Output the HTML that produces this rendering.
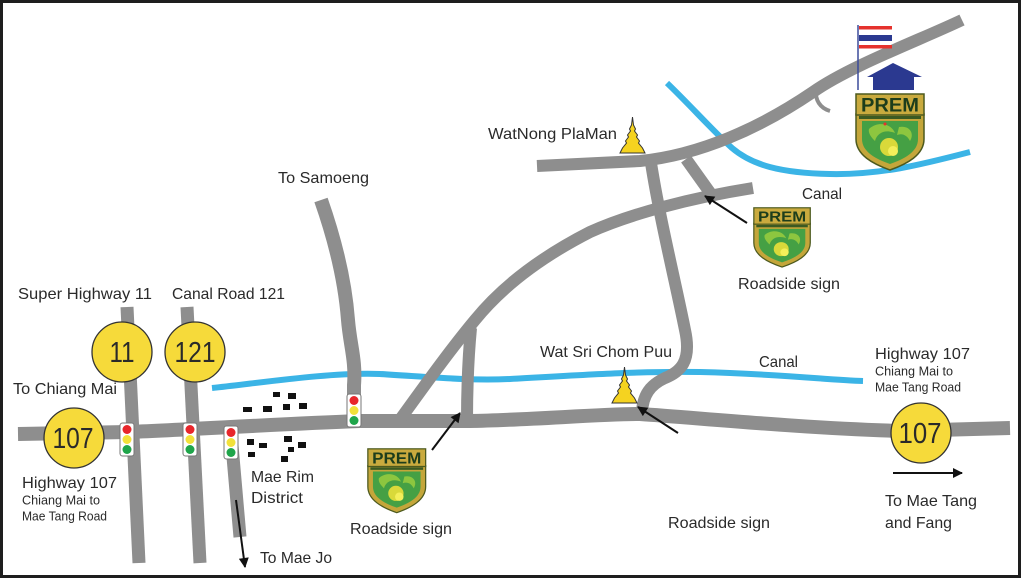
<!DOCTYPE html>
<html><head><meta charset="utf-8"><style>
html,body{margin:0;padding:0;background:#fff;}
svg{display:block;}
text{font-family:"Liberation Sans",sans-serif;fill:#2a2a2a;}
</style></head><body>
<svg width="1024" height="584" viewBox="0 0 1024 584" xmlns="http://www.w3.org/2000/svg">
<rect x="0" y="0" width="1024" height="584" fill="#fff"/>
<defs>
<marker id="ah" viewBox="0 0 10 10" refX="9" refY="5" markerWidth="11" markerHeight="10" orient="auto" markerUnits="userSpaceOnUse">
<path d="M0,0 L10,5 L0,10 Z" fill="#111"/></marker>
</defs>

<!-- canals -->
<g fill="none" stroke="#3bb4e6" stroke-width="6" stroke-linecap="butt">
<path d="M212,388 C260,383 330,372 380,374 C430,377 470,381 510,379 C580,375 640,371 700,372 C780,374 830,380 863,381"/>
<path d="M667,83 C690,105 712,130 732,148 C752,165 780,173 830,174 C880,175 920,165 970,152"/>
</g>

<!-- roads -->
<g fill="none" stroke="#8e8e8e" stroke-linecap="butt" stroke-linejoin="round">
<path stroke-width="14" d="M18,434 L130,432 C200,429 280,424 360,421 L470,421 C530,420 600,414 640,414 C700,418 800,428 900,431 L1010,428"/>
<path stroke-width="13" d="M127,307 L139,563"/>
<path stroke-width="13" d="M187,307 L200,563"/>
<path stroke-width="13" d="M231,434 L240,537"/>
<path stroke-width="14" d="M321,200 C335,240 345,280 348,320 C350,345 356,360 354,385 L354,420"/>
<path stroke-width="12" d="M399,421 C425,385 450,350 475,320 C505,283 545,255 590,232 C630,214 690,198 753,188"/>
<path stroke-width="12" d="M471,328 C468,360 467,390 467,421"/>
<path stroke-width="12" d="M537,166 L640,161 C700,155 760,128 813,92 C850,66 920,40 962,20"/>
<path stroke-width="12" d="M651,163 C660,220 675,280 685,330 C692,362 680,372 665,378 C650,385 643,395 642,412"/>
<path stroke-width="12" d="M686,159 L711,194"/>
<path stroke-width="4" d="M816,90 C815,100 820,108 830,111"/>
</g>

<!-- houses -->
<g fill="#111">
<rect x="273" y="392" width="7" height="5"/><rect x="288" y="393" width="8" height="6"/>
<rect x="243" y="407" width="9" height="5"/><rect x="263" y="406" width="9" height="6"/>
<rect x="283" y="404" width="7" height="6"/><rect x="299" y="403" width="8" height="6"/>
<rect x="247" y="439" width="7" height="6"/><rect x="259" y="443" width="8" height="5"/>
<rect x="248" y="452" width="7" height="5"/><rect x="284" y="436" width="8" height="6"/>
<rect x="298" y="442" width="8" height="6"/><rect x="288" y="447" width="6" height="5"/>
<rect x="281" y="456" width="7" height="6"/>
</g>

<!-- traffic lights -->
<g stroke="#777" stroke-width="1">
<g transform="translate(120,423)"><rect x="0" y="0" width="14" height="33" rx="2.5" fill="#fff"/><circle cx="7" cy="6.5" r="4.5" fill="#e8262b" stroke="none"/><circle cx="7" cy="16.5" r="4.5" fill="#f2e13a" stroke="none"/><circle cx="7" cy="26.5" r="4.5" fill="#1fa54a" stroke="none"/></g>
<g transform="translate(183,423)"><rect x="0" y="0" width="14" height="33" rx="2.5" fill="#fff"/><circle cx="7" cy="6.5" r="4.5" fill="#e8262b" stroke="none"/><circle cx="7" cy="16.5" r="4.5" fill="#f2e13a" stroke="none"/><circle cx="7" cy="26.5" r="4.5" fill="#1fa54a" stroke="none"/></g>
<g transform="translate(224,426)"><rect x="0" y="0" width="14" height="33" rx="2.5" fill="#fff"/><circle cx="7" cy="6.5" r="4.5" fill="#e8262b" stroke="none"/><circle cx="7" cy="16.5" r="4.5" fill="#f2e13a" stroke="none"/><circle cx="7" cy="26.5" r="4.5" fill="#1fa54a" stroke="none"/></g>
<g transform="translate(347,394)"><rect x="0" y="0" width="14" height="33" rx="2.5" fill="#fff"/><circle cx="7" cy="6.5" r="4.5" fill="#e8262b" stroke="none"/><circle cx="7" cy="16.5" r="4.5" fill="#f2e13a" stroke="none"/><circle cx="7" cy="26.5" r="4.5" fill="#1fa54a" stroke="none"/></g>
</g>

<!-- route shields -->
<g fill="#f6da3a" stroke="#333" stroke-width="1.3">
<circle cx="122" cy="352" r="30"/>
<circle cx="195" cy="352" r="30"/>
<circle cx="74" cy="438" r="30"/>
<circle cx="921" cy="433" r="30"/>
</g>
<g font-size="29" text-anchor="middle">
<text x="122" y="362" textLength="25" lengthAdjust="spacingAndGlyphs" fill="#1a1a1a">11</text>
<text x="195" y="362" textLength="41" lengthAdjust="spacingAndGlyphs" fill="#1a1a1a">121</text>
<text x="73" y="448" textLength="41" lengthAdjust="spacingAndGlyphs" fill="#1a1a1a">107</text>
<text x="920" y="443" textLength="43" lengthAdjust="spacingAndGlyphs" fill="#1a1a1a">107</text>
</g>

<!-- stupas -->
<g fill="#f5d320" stroke="#333" stroke-width="1">
<path transform="translate(620,117)" d="M12.5,0 L13.5,8 L15.5,12 L14.5,14 L17.5,18 L16.5,20 L19.5,24 L18.5,26 L22.5,31 L25,36 L0,36 L2.5,31 L6.5,26 L5.5,24 L8.5,20 L7.5,18 L10.5,14 L9.5,12 L11.5,8 Z"/>
<path transform="translate(612,367)" d="M12.5,0 L13.5,8 L15.5,12 L14.5,14 L17.5,18 L16.5,20 L19.5,24 L18.5,26 L22.5,31 L25,36 L0,36 L2.5,31 L6.5,26 L5.5,24 L8.5,20 L7.5,18 L10.5,14 L9.5,12 L11.5,8 Z"/>
</g>

<!-- flag & house -->
<line x1="858" y1="25" x2="858" y2="90" stroke="#3a4a9a" stroke-width="1.5"/>
<rect x="859" y="26" width="33" height="3.5" fill="#e5322d"/>
<rect x="859" y="35" width="33" height="6" fill="#2b3990"/>
<rect x="859" y="45" width="33" height="3.5" fill="#e5322d"/>
<path d="M867,77 L893,63 L922,77 L914,77 L914,90 L873,90 L873,77 Z" fill="#2b3990"/>

<!-- crests -->
<g transform="translate(855,93)">
<path d="M1,21 L69,21 L69,46 C69,62 52,71 35,77 C18,71 1,62 1,46 Z" fill="#c4a63a" stroke="#4d5a1e" stroke-width="1.5"/>
<rect x="1" y="1" width="68" height="21" fill="#c9aa3e" stroke="#4d5a1e" stroke-width="1.5"/>
<text x="35" y="18.5" font-size="19" font-weight="bold" text-anchor="middle" textLength="58" lengthAdjust="spacingAndGlyphs" style="fill:#1d3d1b">PREM</text>
<rect x="4" y="23" width="62" height="3" fill="#3b5a22"/>
<path d="M7,28 L63,28 L63,46 C63,59 49,66 35,71 C21,66 7,59 7,46 Z" fill="#45a044"/>
<path d="M14,36 C22,28 36,30 40,40 C30,36 22,40 20,48 C16,44 13,40 14,36 Z" fill="#8dc63f"/>
<path d="M44,34 C54,32 60,40 55,48 C52,42 47,40 42,42 Z" fill="#8dc63f"/>
<circle cx="34" cy="54" r="9" fill="#d9d93a"/>
<circle cx="38" cy="58" r="5" fill="#f4ef5a"/>
<circle cx="30" cy="31" r="1.5" fill="#e5322d"/>
</g>
<g transform="translate(753,207) scale(0.83,0.78)">
<path d="M1,21 L69,21 L69,46 C69,62 52,71 35,77 C18,71 1,62 1,46 Z" fill="#c4a63a" stroke="#4d5a1e" stroke-width="1.5"/>
<rect x="1" y="1" width="68" height="21" fill="#c9aa3e" stroke="#4d5a1e" stroke-width="1.5"/>
<text x="35" y="18.5" font-size="19" font-weight="bold" text-anchor="middle" textLength="58" lengthAdjust="spacingAndGlyphs" style="fill:#1d3d1b">PREM</text>
<rect x="4" y="23" width="62" height="3" fill="#3b5a22"/>
<path d="M7,28 L63,28 L63,46 C63,59 49,66 35,71 C21,66 7,59 7,46 Z" fill="#45a044"/>
<path d="M14,36 C22,28 36,30 40,40 C30,36 22,40 20,48 C16,44 13,40 14,36 Z" fill="#8dc63f"/>
<path d="M44,34 C54,32 60,40 55,48 C52,42 47,40 42,42 Z" fill="#8dc63f"/>
<circle cx="34" cy="54" r="9" fill="#d9d93a"/>
<circle cx="38" cy="58" r="5" fill="#f4ef5a"/>
</g>
<g transform="translate(367,448) scale(0.85,0.84)">
<path d="M1,21 L69,21 L69,46 C69,62 52,71 35,77 C18,71 1,62 1,46 Z" fill="#c4a63a" stroke="#4d5a1e" stroke-width="1.5"/>
<rect x="1" y="1" width="68" height="21" fill="#c9aa3e" stroke="#4d5a1e" stroke-width="1.5"/>
<text x="35" y="18.5" font-size="19" font-weight="bold" text-anchor="middle" textLength="58" lengthAdjust="spacingAndGlyphs" style="fill:#1d3d1b">PREM</text>
<rect x="4" y="23" width="62" height="3" fill="#3b5a22"/>
<path d="M7,28 L63,28 L63,46 C63,59 49,66 35,71 C21,66 7,59 7,46 Z" fill="#45a044"/>
<path d="M14,36 C22,28 36,30 40,40 C30,36 22,40 20,48 C16,44 13,40 14,36 Z" fill="#8dc63f"/>
<path d="M44,34 C54,32 60,40 55,48 C52,42 47,40 42,42 Z" fill="#8dc63f"/>
<circle cx="34" cy="54" r="9" fill="#d9d93a"/>
<circle cx="38" cy="58" r="5" fill="#f4ef5a"/>
</g>

<!-- arrows -->
<g stroke="#111" stroke-width="2" fill="none" marker-end="url(#ah)">
<line x1="747" y1="223" x2="705" y2="196"/>
<line x1="432" y1="450" x2="460" y2="413"/>
<line x1="678" y1="433" x2="638" y2="407"/>
<line x1="236" y1="500" x2="245" y2="567"/>
<line x1="893" y1="473" x2="962" y2="473"/>
</g>

<!-- labels -->
<g font-size="16">
<text x="18" y="299" textLength="134" lengthAdjust="spacingAndGlyphs">Super Highway 11</text>
<text x="172" y="299" textLength="113" lengthAdjust="spacingAndGlyphs">Canal Road 121</text>
<text x="13" y="394" textLength="104" lengthAdjust="spacingAndGlyphs">To Chiang Mai</text>
<text x="22" y="488" textLength="95" lengthAdjust="spacingAndGlyphs">Highway 107</text>
<text x="22" y="504.5" font-size="12.5" textLength="78" lengthAdjust="spacingAndGlyphs">Chiang Mai to</text>
<text x="22" y="520.5" font-size="12.5" textLength="85" lengthAdjust="spacingAndGlyphs">Mae Tang Road</text>
<text x="251" y="482" textLength="63" lengthAdjust="spacingAndGlyphs">Mae Rim</text>
<text x="251" y="503" textLength="52" lengthAdjust="spacingAndGlyphs">District</text>
<text x="260" y="563" textLength="72" lengthAdjust="spacingAndGlyphs">To Mae Jo</text>
<text x="278" y="183" textLength="91" lengthAdjust="spacingAndGlyphs">To Samoeng</text>
<text x="488" y="139" textLength="129" lengthAdjust="spacingAndGlyphs">WatNong PlaMan</text>
<text x="802" y="199" textLength="40" lengthAdjust="spacingAndGlyphs">Canal</text>
<text x="738" y="289" textLength="102" lengthAdjust="spacingAndGlyphs">Roadside sign</text>
<text x="540" y="357" textLength="132" lengthAdjust="spacingAndGlyphs">Wat Sri Chom Puu</text>
<text x="350" y="534" textLength="102" lengthAdjust="spacingAndGlyphs">Roadside sign</text>
<text x="759" y="367" textLength="39" lengthAdjust="spacingAndGlyphs">Canal</text>
<text x="875" y="359" textLength="95" lengthAdjust="spacingAndGlyphs">Highway 107</text>
<text x="875" y="375.5" font-size="12.5" textLength="78" lengthAdjust="spacingAndGlyphs">Chiang Mai to</text>
<text x="875" y="391.5" font-size="12.5" textLength="86" lengthAdjust="spacingAndGlyphs">Mae Tang Road</text>
<text x="885" y="506" textLength="92" lengthAdjust="spacingAndGlyphs">To Mae Tang</text>
<text x="885" y="528" textLength="67" lengthAdjust="spacingAndGlyphs">and Fang</text>
<text x="668" y="528" textLength="102" lengthAdjust="spacingAndGlyphs">Roadside sign</text>
</g>

<!-- frame -->
<rect x="1.5" y="1.5" width="1018" height="575" fill="none" stroke="#1e1e1e" stroke-width="3"/>
</svg>
</body></html>
